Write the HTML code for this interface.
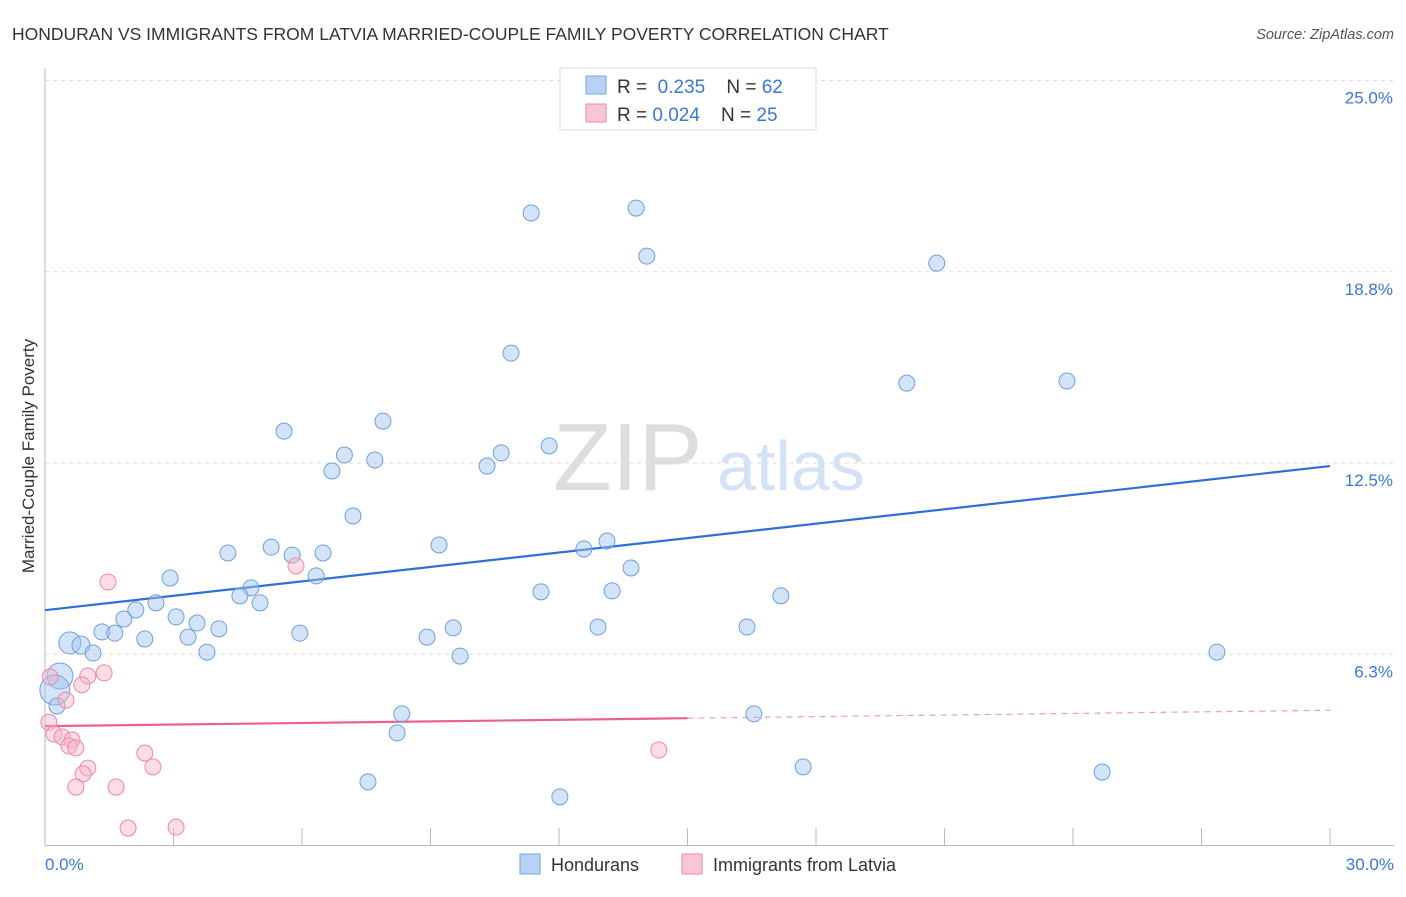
<!DOCTYPE html>
<html><head><meta charset="utf-8"><style>
body{margin:0;background:#fff;font-family:"Liberation Sans",sans-serif;}
svg text{font-family:"Liberation Sans",sans-serif;}
</style></head><body>
<svg id="chart" width="1406" height="892" xmlns="http://www.w3.org/2000/svg">
<text x="12" y="40" font-size="17.5" fill="#333">HONDURAN VS IMMIGRANTS FROM LATVIA MARRIED-COUPLE FAMILY POVERTY CORRELATION CHART</text>
<text x="1394" y="39" font-size="14.5" fill="#555" font-style="italic" text-anchor="end">Source: ZipAtlas.com</text>
<text x="553" y="490" font-size="96" fill="#ddd" font-family="Liberation Serif">ZIP</text>
<text x="717" y="490" font-size="70" fill="#d3e2f5">atlas</text>
<text transform="translate(34,456) rotate(-90)" font-size="17" fill="#333" text-anchor="middle">Married-Couple Family Poverty</text>
<g id="grid"></g><g id="axes"></g><g id="lines"></g><g id="pts"></g>
<g>
<rect x="560" y="68" width="256" height="62" fill="#fff" stroke="#ddd"/>
<rect x="586" y="76" width="20" height="18" fill="#b7d2f5" stroke="#7aa7e0"/>
<rect x="586" y="104" width="20" height="18" fill="#f9c6d6" stroke="#f08aa8"/>
<text x="617" y="93" font-size="19" fill="#333">R = <tspan fill="#3a78d4">&#160;0.235</tspan>&#160;&#160;&#160; N = <tspan fill="#3a78d4">62</tspan></text>
<text x="617" y="121" font-size="19" fill="#333">R = <tspan fill="#3a78d4">0.024</tspan>&#160;&#160;&#160; N = <tspan fill="#3a78d4">25</tspan></text>
</g>
<g>
<rect x="520" y="854" width="20" height="20" fill="#b7d2f5" stroke="#7aa7e0"/>
<text x="551" y="871" font-size="18" fill="#333">Hondurans</text>
<rect x="682" y="854" width="20" height="20" fill="#f9c6d6" stroke="#f08aa8"/>
<text x="713" y="871" font-size="18" fill="#333">Immigrants from Latvia</text>
</g>
</svg>
<script>
const yTicks=[6.25,12.5,18.75,25];
const yTickLabels=["6.3%","12.5%","18.8%","25.0%"];
const xTicks=[0,3,6,9,12,15,18,21,24,27,30];
const xEndLabels=["0.0%","30.0%"];
const hondX=[11.35,13.8,14.05,20.82,10.88,20.12,23.86,7.89,5.58,11.77,6.99,7.7,10.65,10.32,6.7,7.19,9.2,13.12,12.58,4.27,5.28,5.77,6.49,6.33,13.68,2.92,4.81,4.55,5.02,11.58,13.24,17.18,2.59,2.12,1.84,3.06,3.55,1.33,1.63,4.06,2.33,3.34,5.95,8.92,9.53,12.91,16.39,0.58,0.84,1.12,3.78,9.69,27.36,0.35,0.23,0.28,8.33,16.55,8.22,17.7,24.68,7.54,12.02];
const hondY=[20.67,20.83,19.26,19.03,16.09,15.11,15.18,13.87,13.54,13.06,12.76,12.6,12.83,12.4,12.24,10.77,9.82,9.95,9.69,9.56,9.75,9.49,9.56,8.81,9.07,8.74,8.42,8.16,7.93,8.29,8.32,8.16,7.93,7.7,7.4,7.47,7.27,6.98,6.94,7.08,6.75,6.81,6.94,6.81,7.11,7.14,7.14,6.62,6.55,6.29,6.32,6.19,6.32,5.54,5.08,4.56,4.3,4.3,3.68,2.57,2.4,2.08,1.59];
const hondR=[8,8,8,8,8,8,8,8,8,8,8,8,8,8,8,8,8,8,8,8,8,8,8,8,8,8,8,8,8,8,8,8,8,8,8,8,8,8,8,8,8,8,8,8,8,8,8,11,9,8,8,8,8,13,15,8,8,8,8,8,8,8,8];
const latX=[1.47,5.86,0.12,1.0,1.38,0.86,0.49,0.09,0.21,0.4,0.63,0.56,0.72,2.33,14.33,1.0,0.89,2.52,0.72,1.66,1.94,3.06];
const latY=[8.61,9.14,5.51,5.54,5.64,5.25,4.75,4.03,3.64,3.55,3.45,3.25,3.19,3.02,3.12,2.53,2.34,2.57,1.91,1.91,0.57,0.6];
const hondTrend=[7.69,12.4];
const latTrend=[3.9,4.16,4.42];
const NS="http://www.w3.org/2000/svg";
const X=v=>45+v/30*1285, Y=v=>845.5-v*30.6;
function mk(t,a,p){const e=document.createElementNS(NS,t);for(const k in a)e.setAttribute(k,a[k]);document.getElementById(p).appendChild(e);return e;}
yTicks.forEach((t,i)=>{
 const g=mk('line',{x1:45,x2:1394,y1:Y(t),y2:Y(t),stroke:'#ddd','stroke-dasharray':'4,4'},'grid');
 
 
 const l=mk('text',{x:1393,y:Y(t)+23,'font-size':17,fill:'#3a78d4','text-anchor':'end'},'axes');l.textContent=yTickLabels[i];
 
 
});
const ax=mk('line',{x1:45,x2:1394,y1:845.5,y2:845.5,stroke:'#bbb'},'axes');


const ay=mk('line',{x1:45,x2:45,y1:68,y2:845.5,stroke:'#bbb'},'axes');


xTicks.forEach(t=>{const e=mk('line',{x1:X(t),x2:X(t),y1:828,y2:845.5,stroke:'#bbb'},'axes');
 
 });
[[0,'start',45],[30,'end',1394]].forEach((d,i)=>{const e=mk('text',{x:d[2],y:870,'font-size':17,fill:'#3a78d4','text-anchor':d[1]},'axes');e.textContent=xEndLabels[i];
 
 });
const bl=mk('line',{x1:X(0),y1:Y(hondTrend[0]),x2:X(30),y2:Y(hondTrend[1]),stroke:'#2f6fd6','stroke-width':2.2},'lines');


const pl=mk('line',{x1:X(0),y1:Y(latTrend[0]),x2:X(15),y2:Y(latTrend[1]),stroke:'#e9628a','stroke-width':2.2},'lines');


const pd=mk('line',{x1:X(15),y1:Y(latTrend[1]),x2:X(30),y2:Y(latTrend[2]),stroke:'#e9a0b6','stroke-width':1.2,'stroke-dasharray':'6,5'},'lines');


hondX.forEach((x,i)=>{const c=mk('circle',{cx:X(x),cy:Y(hondY[i]),r:hondR[i],fill:'rgba(160,196,240,0.45)',stroke:'#6f9fdc','stroke-width':1},'pts');
 
 });
latX.forEach((x,i)=>{const c=mk('circle',{cx:X(x),cy:Y(latY[i]),r:8,fill:'rgba(247,180,200,0.45)',stroke:'#ee88a8','stroke-width':1},'pts');
 
 });
</script>
</body></html>
